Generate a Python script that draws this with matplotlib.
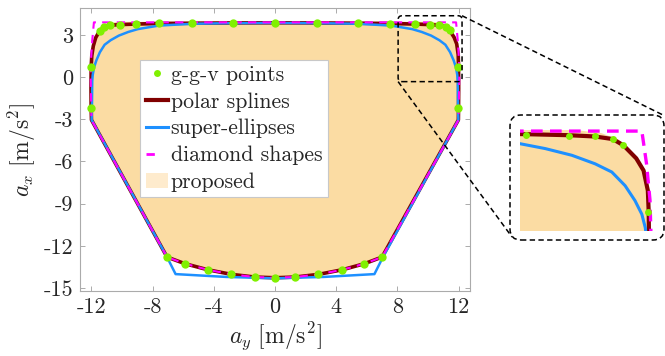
import numpy as np
import matplotlib
matplotlib.use('Agg')
import matplotlib.pyplot as plt
from matplotlib.lines import Line2D
from matplotlib.patches import Patch, FancyBboxPatch

plt.rcParams['font.family'] = 'serif'
plt.rcParams['font.serif'] = ['cmr10', 'DejaVu Serif']
plt.rcParams['mathtext.fontset'] = 'cm'
plt.rcParams['axes.unicode_minus'] = False

# g-g-v points
ggv_x = [-11.46, -11.18, -10.81, -10.16, -9.11, -7.59, -5.40, -2.77, 0.0, 2.73, 5.43, 7.55,
         9.14, 10.14, 10.75, 11.16, 11.41,
         -12.02, -12.02, 11.99, 11.99,
         -7.06, -5.89, -4.40, -2.85, -1.31, 0.0, 1.31, 2.84, 4.41, 5.85, 7.00]
ggv_y = [3.28, 3.52, 3.67, 3.69, 3.74, 3.81, 3.83, 3.83, 3.85, 3.83, 3.81, 3.78,
         3.74, 3.69, 3.67, 3.57, 3.33,
         0.73, -2.22, 0.73, -2.22,
         -12.79, -13.26, -13.69, -14.02, -14.21, -14.26, -14.21, -14.02, -13.69, -13.26, -12.79]

# polar splines (closed contour)
polar_x = [-7.06, -12.00, -12.02, -12.03, -12.02, -11.98, -11.88, -11.72, -11.46, -11.18, -10.81,
           -10.16, -9.11, -7.59, -5.40, -2.77, 0.0, 2.73, 5.43, 7.55, 9.14, 10.14, 10.75, 11.16,
           11.41, 11.71, 11.88, 11.98, 12.00, 12.01, 12.00, 11.99,
           7.00, 5.85, 4.41, 2.84, 1.31, 0.0, -1.31, -2.85, -4.40, -5.89, -7.06]
polar_y = [-12.79, -3.05, -2.22, -0.80, 0.73, 1.50, 2.20, 2.80, 3.28, 3.52, 3.67,
           3.72, 3.76, 3.80, 3.82, 3.84, 3.85, 3.84, 3.82, 3.80, 3.76, 3.72, 3.67, 3.57,
           3.33, 2.82, 2.35, 1.57, 0.73, -0.80, -2.22, -3.05,
           -12.79, -13.26, -13.69, -14.02, -14.21, -14.26, -14.21, -14.02, -13.69, -13.26, -12.79]

# super-ellipses
super_x = [-7.06, -11.99, -11.97, -11.95, -11.92, -11.84, -11.68, -11.45, -11.14, -10.75,
           -10.21, -9.59, -8.97, -7.60, -5.40, -3.00, 0.0, 3.00, 5.40, 7.60, 8.97, 9.59,
           10.21, 10.75, 11.14, 11.45, 11.68, 11.84, 11.92, 11.95, 11.97, 11.99,
           7.06, 6.50, 3.20, 0.0, -3.20, -6.50, -7.06]
super_y = [-12.79, -3.05, -2.30, -0.30, 0.13, 0.65, 1.18, 1.76, 2.29, 2.61,
           2.94, 3.20, 3.40, 3.65, 3.78, 3.82, 3.84, 3.82, 3.78, 3.65, 3.40, 3.20,
           2.94, 2.61, 2.29, 1.76, 1.18, 0.65, 0.13, -0.30, -2.30, -3.05,
           -12.79, -14.00, -14.20, -14.30, -14.20, -14.00, -12.79]

# diamond shapes
diam_x = [-7.06, -12.00, -12.05, -12.03, -11.95, -11.84, 11.84, 11.95, 12.03, 12.05, 12.00,
          7.00, 5.85, 4.41, 2.84, 1.31, 0.0, -1.31, -2.85, -4.40, -5.89, -7.06]
diam_y = [-12.79, -3.05, 0.0, 1.20, 2.60, 3.88, 3.88, 2.60, 1.20, 0.0, -3.05,
          -12.79, -13.26, -13.69, -14.02, -14.21, -14.26, -14.21, -14.02, -13.69, -13.26, -12.79]

# proposed region
prop_x = [-7.06, -12.00, -12.03, -11.98, -11.85, -11.60, -11.30, -10.90, -10.30,
          10.30, 10.90, 11.30, 11.60, 11.85, 11.98, 12.00, 11.99,
          7.00, 5.85, 4.41, 2.84, 1.31, 0.0, -1.31, -2.85, -4.40, -5.89]
prop_y = [-12.79, -3.05, 0.73, 1.60, 2.40, 3.10, 3.55, 3.80, 3.92,
          3.92, 3.80, 3.55, 3.10, 2.40, 1.60, 0.73, -3.05,
          -12.79, -13.26, -13.69, -14.02, -14.21, -14.26, -14.21, -14.02, -13.69, -13.26]

xticks = [-12, -8, -4, 0, 4, 8, 12]
yticks = [-15, -12, -9, -6, -3, 0, 3]

c_green = '#80F000'
c_red = '#800000'
c_blue = '#1E90FF'
c_mag = '#FF00FF'
c_fill = '#FBDCA3'
c_grey = '#ABABAB'
c_text = '#262626'


def draw(a, lw_red, lw_blue, lw_mag, ms, dash):
    a.fill(prop_x, prop_y, color=c_fill, lw=0, zorder=1)
    a.plot(polar_x, polar_y, color=c_red, lw=lw_red, zorder=2)
    a.plot(super_x, super_y, color=c_blue, lw=lw_blue, zorder=3)
    a.plot(diam_x, diam_y, color=c_mag, lw=lw_mag, dashes=dash, zorder=4)
    a.plot(ggv_x, ggv_y, ls='none', marker='o', ms=ms, color=c_green, mec='none', zorder=5)


fig = plt.figure(figsize=(6.65, 3.56), dpi=100)
ax = fig.add_axes([80/665, 1-291/356, 390/665, 283/356])
draw(ax, 2.6, 1.8, 1.5, 6, (4, 3))
ax.set_xlim(-12.75, 12.75)
ax.set_ylim(-15.2, 4.9)
ax.set_xticks(xticks)
ax.set_xticklabels([str(t) for t in xticks])
ax.set_yticks(yticks)
ax.set_yticklabels([str(t) for t in yticks])
ax.tick_params(direction='in', length=3.5, width=0.7, color=c_grey, top=True, right=True,
               labelsize=16, labelcolor=c_text, pad=5)
for s in ax.spines.values():
    s.set_color(c_grey)
    s.set_linewidth(0.8)
ax.set_xlabel(r'$a_y\ [\mathrm{m/s^2}]$', fontsize=17, color=c_text, labelpad=2)
ax.set_ylabel(r'$a_x\ [\mathrm{m/s^2}]$', fontsize=17, color=c_text, labelpad=4)

handles = [
    Line2D([], [], ls='none', marker='o', ms=5, color=c_green, mec='none'),
    Line2D([], [], color=c_red, lw=3),
    Line2D([], [], color=c_blue, lw=2.2),
    Line2D([], [], color=c_mag, lw=2, dashes=(3, 8)),
    Patch(facecolor='#FEEBCD', edgecolor='none'),
]
labels = ['g-g-v points', 'polar splines', 'super-ellipses', 'diamond shapes', 'proposed']
leg = ax.legend(handles, labels, loc='upper left', bbox_to_anchor=(0.154, 0.816),
                borderaxespad=0, fontsize=15.7, handlelength=1.05, handletextpad=0.1,
                labelspacing=0.33, borderpad=0.25, fancybox=False, framealpha=1,
                edgecolor='#C8C8C8')
leg.get_frame().set_linewidth(0.8)
for t in leg.get_texts():
    t.set_color(c_text)

# inset
ax_in = fig.add_axes([520/665, 1-231/356, 133/665, 103/356])
draw(ax_in, 3.0, 2.2, 2.4, 5, (3.5, 2.2))
ax_in.set_xlim(9.0, 12.1)
ax_in.set_ylim(0.0, 4.0)
ax_in.axis('off')

to_fig = lambda x, y: fig.transFigure.inverted().transform(ax.transData.transform((x, y)))
zx = (8.05, 12.23)
zy = (-0.33, 4.35)
p0 = to_fig(zx[0], zy[0])
p1 = to_fig(zx[1], zy[1])
asp = 665/356
box_style = dict(fill=False, ec='k', lw=1.1, ls=(0, (3.5, 2.2)), mutation_aspect=asp,
                 transform=fig.transFigure, zorder=10)
fig.add_artist(FancyBboxPatch(p0, p1[0]-p0[0], p1[1]-p0[1],
                              boxstyle='round,pad=0,rounding_size=%f' % (4/665), **box_style))
b0 = (510/665, 1-240/356)
b1 = (664/665, 1-115/356)
fig.add_artist(FancyBboxPatch(b0, b1[0]-b0[0], b1[1]-b0[1],
                              boxstyle='round,pad=0,rounding_size=%f' % (11/665), **box_style))
fig.add_artist(Line2D([p1[0], b1[0]-1/665], [p1[1], b1[1]], transform=fig.transFigure,
                      color='k', lw=1.1, ls=(0, (3.5, 2.2))))
fig.add_artist(Line2D([p0[0], b0[0]+2/665], [p0[1], b0[1]+3/356], transform=fig.transFigure,
                      color='k', lw=1.1, ls=(0, (3.5, 2.2))))

fig.savefig('out.png', dpi=100)
